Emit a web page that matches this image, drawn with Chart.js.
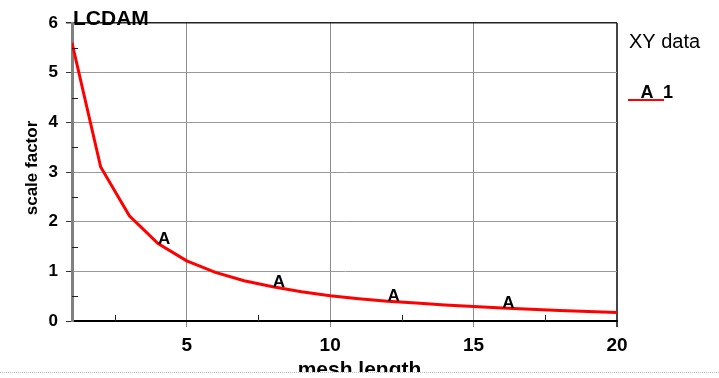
<!DOCTYPE html>
<html>
<head>
<meta charset="utf-8">
<script src="https://cdn.jsdelivr.net/npm/chart.js@4.4.1/dist/chart.umd.min.js"></script>
<style>
  html, body { margin: 0; padding: 0; background: #fff; }
  #frame {
    position: absolute; left: 0; top: 0;
    width: 719px; height: 372px; overflow: hidden;
    border-bottom: 1px dotted #bdbdbd;
  }
  canvas { display: block; }
</style>
</head>
<body>
<div id="frame"><canvas id="c" width="719" height="380"></canvas></div>
<script>
// Scale factor as a function of mesh length
const meshLength  = [1, 2, 3, 4, 5, 6, 7, 8, 9, 10, 11, 12, 13, 14, 15, 16, 17, 18, 19, 20];
const scaleFactor = [5.6, 3.1, 2.12, 1.56, 1.21, 0.98, 0.81, 0.69, 0.59, 0.51,
                     0.45, 0.40, 0.36, 0.32, 0.29, 0.26, 0.235, 0.21, 0.19, 0.17];

// Points that carry the series symbol "A"
const symbolAt = [4, 8, 12, 16];

// Axis ticks
const xMajorTicks = [5, 10, 15, 20];
const xMinorTicks = [2.5, 7.5, 12.5, 17.5];
const yMajorTicks = [0, 1, 2, 3, 4, 5, 6];
const yMinorTicks = [0.5, 1.5, 2.5, 3.5, 4.5, 5.5];

const chartTitle = 'LCDAM';
const xTitle = 'mesh length';
const yTitle = 'scale factor';
const legendTitle = 'XY data';
const seriesSymbol = 'A';
const seriesName = '1';

const FONT = '"Liberation Sans", Arial, sans-serif';

// Minor tick marks point into the plot area
const minorTicks = {
  id: 'minorTicks',
  afterDraw(chart) {
    const { ctx, scales: { x, y }, chartArea: a } = chart;
    ctx.save();
    ctx.strokeStyle = '#222';
    ctx.lineWidth = 1;
    ctx.beginPath();
    xMinorTicks.forEach(v => {
      const px = Math.round(x.getPixelForValue(v)) + 0.5;
      ctx.moveTo(px, a.bottom); ctx.lineTo(px, a.bottom - 6);
    });
    yMinorTicks.forEach(v => {
      const py = Math.round(y.getPixelForValue(v)) + 0.5;
      ctx.moveTo(a.left, py); ctx.lineTo(a.left + 6, py);
    });
    ctx.stroke();
    ctx.restore();
  }
};

// Letter symbols placed on the curve
const seriesSymbols = {
  id: 'seriesSymbols',
  afterDatasetsDraw(chart) {
    const { ctx } = chart;
    const meta = chart.getDatasetMeta(0);
    ctx.save();
    ctx.fillStyle = '#000';
    ctx.font = 'bold 17px ' + FONT;
    ctx.textAlign = 'left';
    ctx.textBaseline = 'alphabetic';
    meta.data.forEach((pt, i) => {
      if (symbolAt.includes(meshLength[i])) {
        ctx.fillText(seriesSymbol, pt.x, pt.y);
      }
    });
    ctx.restore();
  }
};

// Titles, axis names and the legend
const annotations = {
  id: 'annotations',
  afterDraw(chart) {
    const { ctx, chartArea: a } = chart;
    ctx.save();
    ctx.fillStyle = '#000';
    ctx.textAlign = 'left';
    ctx.textBaseline = 'alphabetic';
    ctx.font = 'bold 21px ' + FONT;
    ctx.fillText(chartTitle, a.left + 1, a.top + 2);

    // axis names
    ctx.font = 'bold 21px ' + FONT;
    ctx.textAlign = 'center';
    ctx.fillText(xTitle, (a.left + a.right) / 2 + 15, a.bottom + 55);
    ctx.save();
    ctx.translate(a.left - 40, (a.top + a.bottom) / 2 - 4);
    ctx.rotate(-Math.PI / 2);
    ctx.font = 'bold 17px ' + FONT;
    ctx.textBaseline = 'middle';
    ctx.fillText(yTitle, 0, 0);
    ctx.restore();

    // legend
    ctx.textAlign = 'left';
    ctx.font = '20px ' + FONT;
    ctx.fillText(legendTitle, a.right + 12, a.top + 25);

    const ly = a.top + 77;
    ctx.strokeStyle = '#ff0000';
    ctx.lineWidth = 2;
    ctx.beginPath();
    ctx.moveTo(a.right + 11, ly); ctx.lineTo(a.right + 47, ly);
    ctx.stroke();
    ctx.font = 'bold 18px ' + FONT;
    ctx.textAlign = 'center';
    ctx.fillText(seriesSymbol, a.right + 30, ly - 2);
    ctx.textAlign = 'left';
    ctx.fillText(seriesName, a.right + 46, ly - 2);
    ctx.restore();
  }
};

new Chart(document.getElementById('c'), {
  type: 'scatter',
  data: {
    datasets: [{
      label: seriesName,
      data: meshLength.map((m, i) => ({ x: m, y: scaleFactor[i] })),
      showLine: true,
      borderColor: '#ff0000',
      backgroundColor: '#ff0000',
      borderWidth: 3,
      pointRadius: 0,
      tension: 0
    }]
  },
  options: {
    responsive: false,
    animation: false,
    layout: { padding: { top: 23, right: 102, left: 0, bottom: 0 } },
    plugins: { legend: { display: false }, tooltip: { enabled: false } },
    scales: {
      x: {
        type: 'linear',
        min: 1, max: 20,
        afterBuildTicks: s => { s.ticks = xMajorTicks.map(v => ({ value: v })); },
        afterFit: s => { s.height = 59; },
        grid: {
          color: c => (c.tick && c.tick.value === 20) ? '#444' : '#8a8a8a',
          lineWidth: c => (c.tick && c.tick.value === 20) ? 2 : 1,
          tickLength: 6,
          drawTicks: true
        },
        border: { display: true, color: '#000', width: 2 },
        ticks: {
          color: '#000',
          font: { family: FONT, size: 19, weight: 'bold' },
          padding: 7,
          maxRotation: 0,
          callback: v => String(v)
        }
      },
      y: {
        type: 'linear',
        min: 0, max: 6,
        afterBuildTicks: s => { s.ticks = yMajorTicks.map(v => ({ value: v })); },
        afterFit: s => { s.width = 72; },
        grid: {
          color: c => (c.tick && c.tick.value === 6) ? '#222' : '#999',
          lineWidth: c => (c.tick && c.tick.value === 6) ? 1.5 : 1,
          tickLength: 6,
          tickColor: '#333',
          drawTicks: true
        },
        border: { display: true, color: '#808080', width: 3 },
        ticks: {
          color: '#000',
          font: { family: FONT, size: 17, weight: 'bold' },
          padding: 8,
          callback: v => String(v)
        }
      }
    }
  },
  plugins: [minorTicks, seriesSymbols, annotations]
});
</script>
</body>
</html>
